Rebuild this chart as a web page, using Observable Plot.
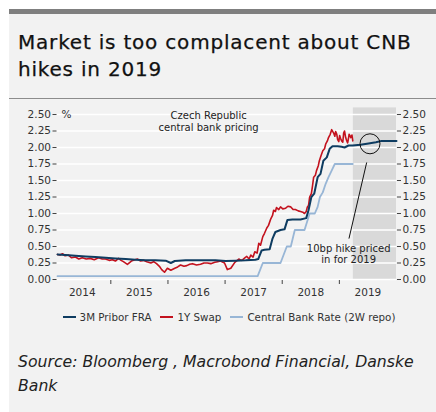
<!DOCTYPE html>
<html>
<head>
<meta charset="utf-8">
<script src="https://cdn.jsdelivr.net/npm/d3@7"></script>
<script src="https://cdn.jsdelivr.net/npm/@observablehq/plot@0.6"></script>
<style>
  html, body { margin: 0; padding: 0; background: #ffffff; }
  body { width: 436px; height: 412px; position: relative; overflow: hidden; font-family: "DejaVu Sans", sans-serif; }
  #panel { position: absolute; left: 9px; top: 9px; width: 427px; height: 403px; background: #f2f2f2; }
  #topbar { position: absolute; left: 0; top: 0; width: 100%; height: 5px; background: #7f7f7f; }
  #title { position: absolute; left: 9px; top: 20px; font-size: 20px; letter-spacing: 0.8px; line-height: 27px; color: #111; white-space: nowrap; -webkit-text-stroke: 0.25px #111; }
  #sep { position: absolute; left: 0; top: 88.5px; width: 100%; height: 1.5px; background: #8c8c8c; }
  #chart { position: absolute; left: 0; top: 100px; }
  #legend { position: absolute; top: 311px; left: 0; width: 436px; display: flex; justify-content: center; gap: 9px; font-size: 10.3px; color: #333; padding-left: 22px; box-sizing: border-box; }
  #legend .item { display: flex; align-items: center; gap: 4px; }
  #legend .sw { width: 13px; height: 2px; }
  #source { position: absolute; left: 18px; top: 350px; font-size: 15.7px; font-style: italic; line-height: 24px; color: #222; white-space: nowrap; }
</style>
</head>
<body>
<div id="panel">
  <div id="topbar"></div>
  <div id="title">Market is too complacent about CNB<br>hikes in 2019</div>
  <div id="sep"></div>
</div>
<div id="chart"></div>
<div id="legend"></div>
<div id="source">Source: Bloomberg , Macrobond Financial, Danske<br>Bank</div>
<script>
// ---- data (time as decimal years) ----
const yearLabels = [2014, 2015, 2016, 2017, 2018, 2019];
const yearTicks = [2015, 2016, 2017, 2018, 2019];
const yTicks = [0, 0.25, 0.5, 0.75, 1, 1.25, 1.5, 1.75, 2, 2.25, 2.5];

const seriesNames = ["3M Pribor FRA", "1Y Swap", "Central Bank Rate (2W repo)"];
const seriesColors = ["#0e3c61", "#c3121e", "#98b6d6"];

const fraT = [2014.067, 2014.21, 2014.38, 2014.56, 2014.73, 2014.91, 2015.08, 2015.26, 2015.43, 2015.61, 2015.78, 2015.96, 2016.05, 2016.12, 2016.31, 2016.57, 2016.83, 2017.01, 2017.18, 2017.36, 2017.53, 2017.58, 2017.64, 2017.69, 2017.78, 2017.83, 2017.88, 2017.97, 2018.04, 2018.09, 2018.18, 2018.32, 2018.42, 2018.46, 2018.51, 2018.56, 2018.62, 2018.67, 2018.72, 2018.78, 2018.83, 2018.88, 2018.97, 2019.04, 2019.09, 2019.16, 2019.23, 2019.37, 2019.51, 2019.64, 2019.74, 2019.90, 2020.0];
const fraV = [0.38, 0.37, 0.36, 0.35, 0.34, 0.33, 0.32, 0.31, 0.30, 0.29, 0.29, 0.285, 0.25, 0.28, 0.29, 0.29, 0.29, 0.28, 0.285, 0.29, 0.30, 0.31, 0.44, 0.45, 0.46, 0.62, 0.72, 0.75, 0.76, 0.90, 0.91, 0.91, 0.93, 1.05, 1.25, 1.30, 1.55, 1.60, 1.80, 1.85, 1.98, 2.02, 2.02, 2.01, 2.00, 2.03, 2.03, 2.04, 2.06, 2.08, 2.10, 2.10, 2.10];

const swapT = [2014.067, 2014.11, 2014.154, 2014.20, 2014.26, 2014.31, 2014.38, 2014.44, 2014.50, 2014.57, 2014.64, 2014.71, 2014.785, 2014.85, 2014.907, 2014.97, 2015.03, 2015.08, 2015.135, 2015.18, 2015.22, 2015.29, 2015.36, 2015.42, 2015.47, 2015.52, 2015.57, 2015.63, 2015.70, 2015.75, 2015.80, 2015.85, 2015.89, 2015.94, 2015.99, 2016.05, 2016.12, 2016.17, 2016.22, 2016.28, 2016.33, 2016.38, 2016.43, 2016.50, 2016.57, 2016.63, 2016.69, 2016.75, 2016.82, 2016.87, 2016.92, 2016.99, 2017.04, 2017.10, 2017.17, 2017.24, 2017.28, 2017.31, 2017.35, 2017.38, 2017.42, 2017.45, 2017.49, 2017.52, 2017.56, 2017.59, 2017.62, 2017.66, 2017.69, 2017.73, 2017.76, 2017.80, 2017.83, 2017.85, 2017.88, 2017.90, 2017.94, 2017.97, 2018.01, 2018.06, 2018.10, 2018.15, 2018.19, 2018.23, 2018.28, 2018.32, 2018.36, 2018.39, 2018.42, 2018.44, 2018.46, 2018.48, 2018.51, 2018.53, 2018.55, 2018.58, 2018.60, 2018.63, 2018.65, 2018.68, 2018.71, 2018.74, 2018.76, 2018.79, 2018.81, 2018.84, 2018.865, 2018.885, 2018.90, 2018.92, 2018.935, 2018.955, 2018.97, 2018.99, 2019.005, 2019.02, 2019.04, 2019.06, 2019.075, 2019.09, 2019.11, 2019.13, 2019.145, 2019.16, 2019.17, 2019.185, 2019.20, 2019.22, 2019.235];
const swapV = [0.38, 0.37, 0.39, 0.36, 0.37, 0.33, 0.34, 0.31, 0.33, 0.31, 0.32, 0.30, 0.33, 0.31, 0.31, 0.29, 0.30, 0.28, 0.32, 0.29, 0.27, 0.23, 0.28, 0.30, 0.31, 0.28, 0.29, 0.27, 0.25, 0.27, 0.24, 0.20, 0.15, 0.11, 0.17, 0.14, 0.17, 0.19, 0.22, 0.20, 0.21, 0.23, 0.24, 0.22, 0.23, 0.25, 0.25, 0.24, 0.26, 0.27, 0.28, 0.25, 0.15, 0.17, 0.26, 0.31, 0.29, 0.30, 0.33, 0.35, 0.31, 0.37, 0.34, 0.42, 0.40, 0.55, 0.52, 0.65, 0.70, 0.78, 0.82, 0.92, 0.97, 1.05, 1.03, 1.09, 1.06, 1.10, 1.07, 1.08, 1.11, 1.10, 1.06, 1.06, 1.04, 1.03, 1.02, 1.00, 1.03, 1.10, 1.12, 1.25, 1.30, 1.42, 1.55, 1.58, 1.65, 1.72, 1.80, 1.88, 1.95, 1.98, 2.05, 2.10, 2.15, 2.20, 2.27, 2.24, 2.22, 2.17, 2.24, 2.20, 2.12, 2.09, 2.18, 2.14, 2.10, 2.08, 2.22, 2.25, 2.15, 2.10, 2.07, 2.14, 2.20, 2.18, 2.15, 2.19, 2.10];

const cbT = [2014.067, 2017.57, 2017.66, 2017.97, 2018.08, 2018.15, 2018.22, 2018.39, 2018.48, 2018.57, 2018.62, 2018.66, 2018.71, 2018.76, 2018.81, 2018.865, 2018.92, 2019.235];
const cbV = [0.05, 0.05, 0.25, 0.25, 0.50, 0.50, 0.75, 0.75, 1.00, 1.00, 1.10, 1.25, 1.32, 1.45, 1.55, 1.65, 1.75, 1.75];

const forecastShade = [2019.245, 2020.0];
const noteCenter = ["Czech Republic\ncentral bank pricing", 2016.711, 2.395];
const noteHike = ["10bp hike priced\nin for 2019", 2019.163, 0.39];
const circleAt = [2019.536, 2.056];
const pointer = [[2019.478, 1.773], [2019.168, 0.62]];

// ---- build tables ----
const fra = fraT.map((t, i) => ({t, v: fraV[i]}));
const swap = swapT.map((t, i) => ({t, v: swapV[i]}));
const cb = cbT.map((t, i) => ({t, v: cbV[i]}));

const chart = Plot.plot({
  width: 436,
  height: 205,
  marginLeft: 56.5,
  marginRight: 40,
  marginTop: 7.4,
  marginBottom: 26,
  style: { background: "transparent", fontFamily: "DejaVu Sans, sans-serif", fontSize: "10.5px", color: "#333" },
  x: { type: "linear", domain: [2014.058, 2020.0] },
  y: { domain: [0, 2.6] },
  marks: [
    Plot.rectY([{x1: forecastShade[0], x2: forecastShade[1]}], {x1: "x1", x2: "x2", y1: 0, y2: 2.6, fill: "#d9d9d9"}),
    Plot.ruleY(yTicks, {stroke: "#ffffff", strokeWidth: 1.5}),
    Plot.axisY({ticks: yTicks, anchor: "left", tickSize: 4, tickPadding: 2, tickFormat: d3.format(".2f"), label: null, stroke: "#444"}),
    Plot.axisY({ticks: yTicks, anchor: "right", tickSize: 4, tickPadding: 2, tickFormat: d3.format(".2f"), label: null, stroke: "#444"}),
    Plot.axisX({ticks: yearTicks, tickSize: 4, tickFormat: () => "", label: null, stroke: "#444", dy: 1}),
    Plot.axisX({ticks: yearLabels.map(y => y + 0.5), tickSize: 0, tickPadding: 9, tickFormat: d => String(Math.floor(d)), label: null}),
    Plot.text(["%"], {x: 2014.135, y: 2.5, text: d => d, textAnchor: "start", fill: "#333", fontSize: 10.5}),
    Plot.line(cb, {x: "t", y: "v", stroke: seriesColors[2], strokeWidth: 1.8}),
    Plot.line(swap, {x: "t", y: "v", stroke: seriesColors[1], strokeWidth: 1.6}),
    Plot.line(fra, {x: "t", y: "v", stroke: seriesColors[0], strokeWidth: 2}),
    Plot.text([noteCenter], {x: d => d[1], y: d => d[2], text: d => d[0], fontSize: 10, fill: "#222", lineHeight: 1.2}),
    Plot.text([noteHike], {x: d => d[1], y: d => d[2], text: d => d[0], fontSize: 10, fill: "#222", lineHeight: 1.15}),
    Plot.dot([circleAt], {x: d => d[0], y: d => d[1], r: 10, stroke: "#111", fill: "none", strokeWidth: 1}),
    Plot.link([pointer], {x1: d => d[0][0], y1: d => d[0][1], x2: d => d[1][0], y2: d => d[1][1], stroke: "#111", strokeWidth: 1})
  ]
});
document.getElementById("chart").appendChild(chart);

const legend = document.getElementById("legend");
seriesNames.forEach((name, i) => {
  const item = document.createElement("div");
  item.className = "item";
  const sw = document.createElement("div");
  sw.className = "sw";
  sw.style.background = seriesColors[i];
  const label = document.createElement("span");
  label.textContent = name;
  item.appendChild(sw);
  item.appendChild(label);
  legend.appendChild(item);
});
</script>
</body>
</html>
